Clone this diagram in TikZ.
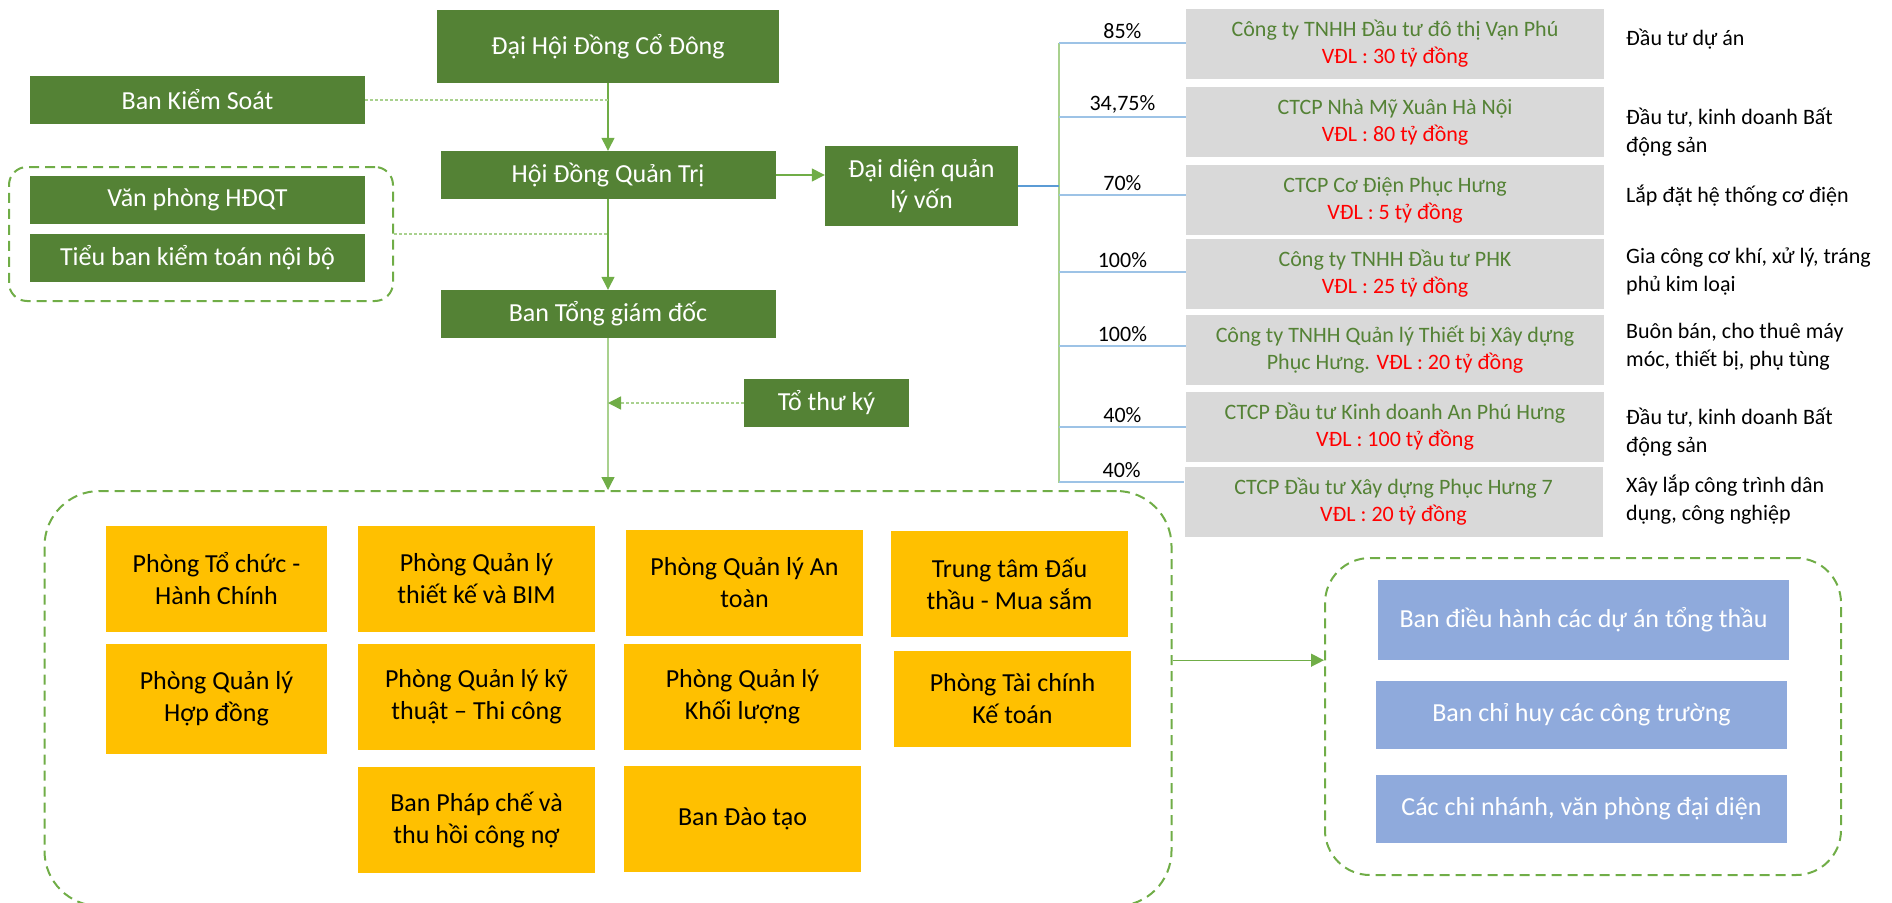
\documentclass[tikz,border=0pt]{standalone}
\usepackage{fontspec}
\setmainfont{Carlito}
\usetikzlibrary{arrows.meta}
\definecolor{dkgreen}{HTML}{548235}
\definecolor{lgreen}{HTML}{70AD47}
\definecolor{pgreen}{HTML}{A9D18E}
\definecolor{gold}{HTML}{FFC000}
\definecolor{lblue}{HTML}{8FAADC}
\definecolor{lgrey}{HTML}{D9D9D9}
\definecolor{lnblue}{HTML}{5B9BD5}
\definecolor{pblue}{HTML}{9DC3E6}
\begin{document}
\begin{tikzpicture}[x=1pt,y=-1pt,>={Triangle[length=13pt,width=13pt,color=lgreen]},
		gbox/.style={fill=dkgreen,text=white,inner sep=0pt,align=center,minimum width=335pt,minimum height=48pt,font=\fontsize{26}{31}\selectfont},
		obox/.style={fill=gold,inner sep=0pt,align=center,minimum width=237pt,minimum height=106pt,font=\fontsize{26}{32}\selectfont},
		bbox/.style={fill=lblue,text=white,inner sep=0pt,align=center,minimum width=411pt,minimum height=68pt,font=\fontsize{26}{31}\selectfont},
		cbox/.style={fill=lgrey,text=dkgreen,inner sep=0pt,align=center,minimum width=418pt,minimum height=70pt,font=\fontsize{22}{27}\selectfont},
		desc/.style={anchor=west,align=left,inner sep=0pt,font=\fontsize{22}{28}\selectfont},
		pct/.style={above,font=\fontsize{22}{26}\selectfont},
		grp/.style={draw=lgreen,line width=2pt,dash pattern=on 10pt off 6pt,rounded corners=#1,inner sep=0pt},
		link/.style={draw=lgreen,line width=1.3pt},
		dots/.style={draw=pgreen,line width=1.5pt,dash pattern=on 3pt off 2pt}]
	\useasboundingbox (0,0) rectangle (1892,902);
	% khung nhom
	\node[grp=18pt,minimum width=384pt,minimum height=134pt] (gleft) at (201,234) {};
	\node[grp=55pt,minimum width=1127pt,minimum height=415pt] (gbig) at (608,698.5) {};
	\node[grp=45pt,minimum width=516pt,minimum height=317pt] (gright) at (1583,716.5) {};
	% bo may dieu hanh
	\node[gbox,minimum width=342pt,minimum height=73pt] (dhdcd) at (608,46.5) {Đại Hội Đồng Cổ Đông};
	\node[gbox] (bks) at (197.5,100) {Ban Kiểm Soát};
	\node[gbox] (hdqt) at (608,175) {Hội Đồng Quản Trị};
	\node[gbox] (vp) at (197.5,200) {Văn phòng HĐQT};
	\node[gbox] (tbkt) at (197.5,258) {Tiểu ban kiểm toán nội bộ};
	\node[gbox] (btgd) at (608,314) {Ban Tổng giám đốc};
	\node[gbox,minimum width=193pt,minimum height=80pt] (ddv) at (921.5,186) {Đại diện quản\\lý vốn};
	\node[gbox,minimum width=165pt] (ttk) at (826.5,403) {Tổ thư ký};
	\draw[link,->] (dhdcd) -- (hdqt);
	\draw[link,->] (hdqt) -- (btgd);
	\draw[link,->] (hdqt.east) -- (hdqt.east -| ddv.west);
	\draw[dots] (bks.east) -- (bks.east -| hdqt.north);
	\draw[dots] (gleft.east) -- (gleft.east -| hdqt.south);
	\draw[link,draw=pgreen,->] (btgd) -- (btgd.south |- gbig.north);
	\draw[dots,->] (ttk.west) -- (ttk.west -| btgd.south);
	% cong ty con
	\node[cbox] (c1) at (1395,44) {Công ty TNHH Đầu tư đô thị Vạn Phú\\\textcolor{red}{VĐL : 30 tỷ đồng}};
	\node[cbox] (c2) at (1395,122) {CTCP Nhà Mỹ Xuân Hà Nội\\\textcolor{red}{VĐL : 80 tỷ đồng}};
	\node[cbox] (c3) at (1395,200) {CTCP Cơ Điện Phục Hưng\\\textcolor{red}{VĐL : 5 tỷ đồng}};
	\node[cbox] (c4) at (1395,274) {Công ty TNHH Đầu tư PHK\\\textcolor{red}{VĐL : 25 tỷ đồng}};
	\node[cbox] (c5) at (1395,350) {Công ty TNHH Quản lý Thiết bị Xây dựng\\Phục Hưng. \textcolor{red}{VĐL : 20 tỷ đồng}};
	\node[cbox] (c6) at (1395,427) {CTCP Đầu tư Kinh doanh An Phú Hưng\\\textcolor{red}{VĐL : 100 tỷ đồng}};
	\node[cbox] (c7) at (1393.5,502) {CTCP Đầu tư Xây dựng Phục Hưng 7\\\textcolor{red}{VĐL : 20 tỷ đồng}};
	\node[desc] (d1) at (1626,39) {Đầu tư dự án};
	\node[desc] (d2) at (1626,132) {Đầu tư, kinh doanh Bất\\động sản};
	\node[desc] (d3) at (1626,196) {Lắp đặt hệ thống cơ điện};
	\node[desc] (d4) at (1626,272) {Gia công cơ khí, xử lý, tráng\\phủ kim loại};
	\node[desc] (d5) at (1626,347) {Buôn bán, cho thuê máy\\móc, thiết bị, phụ tùng};
	\node[desc] (d6) at (1626,432) {Đầu tư, kinh doanh Bất\\động sản};
	\node[desc] (d7) at (1626,500) {Xây lắp công trình dân\\dụng, công nghiệp};
	\coordinate (ttop) at (1059,43);
	\coordinate (tbot) at (1059,483);
	\draw[draw=pgreen,line width=1.3pt] (ttop) -- (tbot);
	\draw[draw=lnblue,line width=2pt] (ddv.east) -- (ddv.east -| ttop);
	\foreach \i/\p/\dy in {1/85/1,2/{34,75}/5,3/70/5,4/100/2,5/100/4,6/40/0,7/40/20}{
		\coordinate (e\i) at ([yshift=\dy pt]c\i.west);
		\draw[draw=pblue,line width=1.5pt] (e\i -| ttop) -- (e\i) node[pct,midway] {\p\%};
	}
	% phong ban
	\node[obox,minimum width=221pt] (p1) at (216.5,579) {Phòng Tổ chức -\\Hành Chính};
	\node[obox] (p2) at (476.5,579) {Phòng Quản lý\\thiết kế và BIM};
	\node[obox] (p3) at (744.5,583) {Phòng Quản lý An\\toàn};
	\node[obox] (p4) at (1009.5,584) {Trung tâm Đấu\\thầu - Mua sắm};
	\node[obox,minimum width=221pt,minimum height=110pt] (p5) at (216.5,699) {Phòng Quản lý\\Hợp đồng};
	\node[obox] (p6) at (476.5,697) {Phòng Quản lý kỹ\\thuật – Thi công};
	\node[obox] (p7) at (742.5,697) {Phòng Quản lý\\Khối lượng};
	\node[obox,minimum height=96pt] (p8) at (1012.5,699) {Phòng Tài chính\\Kế toán};
	\node[obox] (p9) at (476.5,820) {Ban Pháp chế và\\thu hồi công nợ};
	\node[obox] (p10) at (742.5,819) {Ban Đào tạo};
	% cong truong
	\node[bbox,minimum height=80pt] (b1) at (1583.5,620) {Ban điều hành các dự án tổng thầu};
	\node[bbox] (b2) at (1581.5,715) {Ban chỉ huy các công trường};
	\node[bbox] (b3) at (1581.5,809) {Các chi nhánh, văn phòng đại diện};
	\draw[link,->] (gbig.east |- b1.south) -- (gright.west |- b1.south);
\end{tikzpicture}
\end{document}
